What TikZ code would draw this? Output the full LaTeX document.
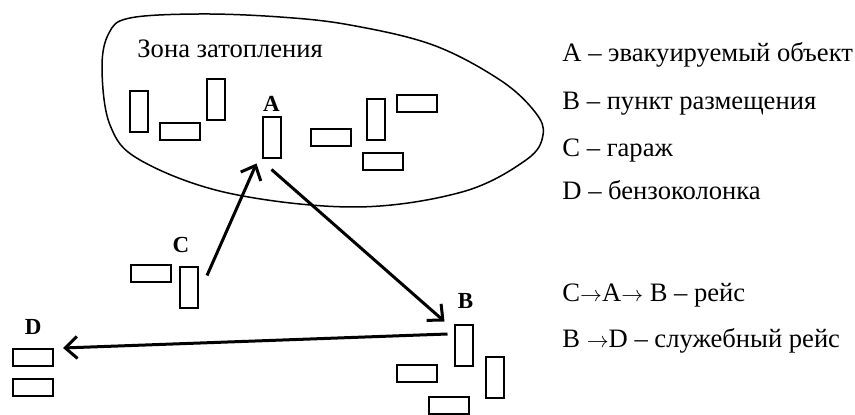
\documentclass[tikz,border=0pt]{standalone}
\usepackage{fontspec}
\setmainfont{Liberation Serif}
\usetikzlibrary{arrows.meta}

\newcommand{\rto}{{\fontsize{10.5}{12}\selectfont$\rightarrow$}}

\begin{document}
\begin{tikzpicture}[
    x=0.5pt, y=-0.5pt,
    every node/.style={font=\fontsize{13.3}{16}\selectfont},
    hbox/.style={draw, line width=1pt, minimum width=20pt, minimum height=8.5pt, inner sep=0pt},
    vbox/.style={draw, line width=1pt, minimum width=9pt, minimum height=20.5pt, inner sep=0pt},
    site/.style={font=\fontsize{11.5}{14}\selectfont\bfseries, anchor=base, inner sep=0pt},
    legend/.style={anchor=base west, inner sep=0pt},
    arr/.style={-{Straight Barb[length=6pt, width=11pt]}, line width=1.5pt}
]
\useasboundingbox (0,0) rectangle (855,415);

% Flood zone outline
\draw[line width=0.75pt] plot[smooth cycle, tension=0.6] coordinates {
    (102,68) (109,33) (130,18) (200,14) (280,17) (350,25) (433,45) (500,80)
    (535,112) (543,135) (526,160) (462,192) (355,207) (228,193)
    (140,160) (110,125)};
\node[anchor=base west, inner sep=0pt] (zone) at (137,58) {Зона затопления};

% Buildings in the zone
\node[vbox] (z1) at (139,112) {};
\node[hbox] (z2) at (179.5,131.5) {};
\node[vbox] (z3) at (215.5,100) {};
\node[vbox] (a) at (271.5,138) {};
\node[hbox] (z5) at (331,137.5) {};
\node[vbox] (z6) at (375.5,120) {};
\node[hbox] (z7) at (417,103.5) {};
\node[hbox] (z8) at (383,161.5) {};
\node[site] (alab) at (271.5,112) {A};

% Garage
\node[hbox] (ch) at (151,273.5) {};
\node[vbox] (cv) at (189,288) {};
\node[site] (clab) at (181,253) {C};

% Shelter point
\node[vbox] (bv) at (463.5,345.5) {};
\node[vbox] (bv2) at (495,378) {};
\node[hbox] (bh) at (417,373.5) {};
\node[hbox] (bh2) at (449,406) {};
\node[site] (blab) at (465.5,309) {B};

% Fuel station
\node[hbox] (d1) at (33,357.5) {};
\node[hbox] (d2) at (33,387.5) {};
\node[site] (dlab) at (33.3,335) {D};

% Routes
\draw[arr] ([shift={(8,9)}]cv.north east) -- ([shift={(-5,4)}]a.south west);
\draw[arr] ([shift={(0,10)}]a.south) -- ([shift={(-9,-2.5)}]bv.north west);
\draw[arr] ([shift={(-6,10)}]bv.north west) -- ([shift={(9,0)}]d1.north east);

% Legend
\node[legend] (la) at (562,62) {A – эвакуируемый объект};
\node[legend] (lb) at (562,110) {B – пункт размещения};
\node[legend] (lc) at (562,157) {C – гараж};
\node[legend] (ld) at (562,200) {D – бензоколонка};
\node[legend] (lr1) at (562,302) {C\rto A\rto{} B – рейс};
\node[legend] (lr2) at (562,348) {B \rto D – служебный рейс};

\end{tikzpicture}
\end{document}
